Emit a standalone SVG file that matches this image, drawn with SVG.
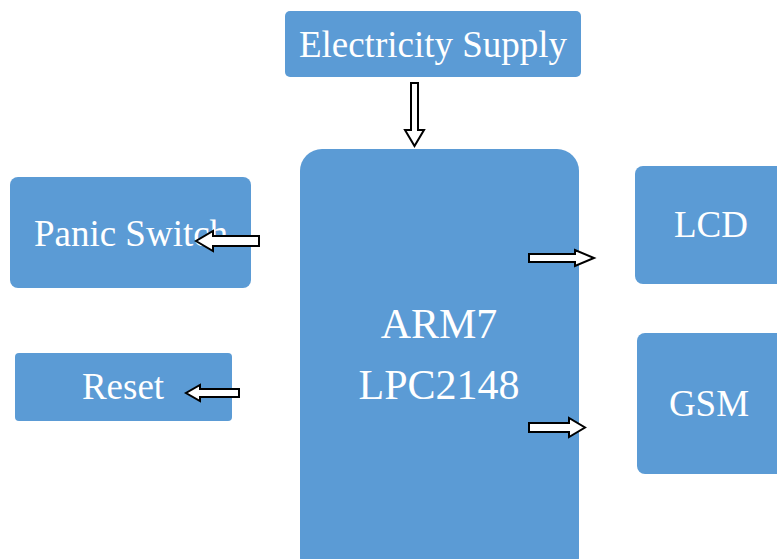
<svg xmlns="http://www.w3.org/2000/svg" width="777" height="559" viewBox="0 0 777 559">
<style>
.box{fill:#5B9BD5;}
.t{fill:#fff;font-family:"Liberation Serif","Times New Roman",serif;font-size:37px;text-anchor:middle;}
.big{font-size:42px;}
.arr{fill:#fff;stroke:#000;stroke-width:2;stroke-linejoin:miter;}
</style>
<rect width="777" height="559" fill="#fff"/>
<g id="supply"><rect class="box" x="285" y="11" width="296" height="66" rx="5"/><text class="t" x="433" y="57">Electricity Supply</text></g>
<g id="arm"><rect class="box" x="300" y="149" width="279" height="430" rx="22"/><text class="t big" x="439" y="338">ARM7</text><text class="t big" x="439" y="399">LPC2148</text></g>
<g id="panic"><rect class="box" x="10" y="177" width="241" height="111" rx="8"/><text class="t" x="131" y="246">Panic Switch</text></g>
<g id="reset"><rect class="box" x="15" y="353" width="217" height="68" rx="4"/><text class="t" x="123" y="399">Reset</text></g>
<g id="lcd"><rect class="box" x="635" y="166" width="152" height="118" rx="8"/><text class="t" x="711" y="237">LCD</text></g>
<g id="gsm"><rect class="box" x="637" y="333" width="150" height="141" rx="8"/><text class="t" x="709" y="416">GSM</text></g>
<g id="connectors">
<polygon class="arr" points="411,83 418,83 418,130 424,130 414.5,146 405,130 411,130"/>
<polygon class="arr" points="259,236 213,236 213,231 196,241 213,251 213,246 259,246"/>
<polygon class="arr" points="239,389 200,389 200,385 186,393 200,401 200,397 239,397"/>
<polygon class="arr" points="529,254 575,254 575,250 594,258 575,266 575,262 529,262"/>
<polygon class="arr" points="529,423 569,423 569,418 585,427.5 569,437 569,432 529,432"/>
</g>
</svg>
